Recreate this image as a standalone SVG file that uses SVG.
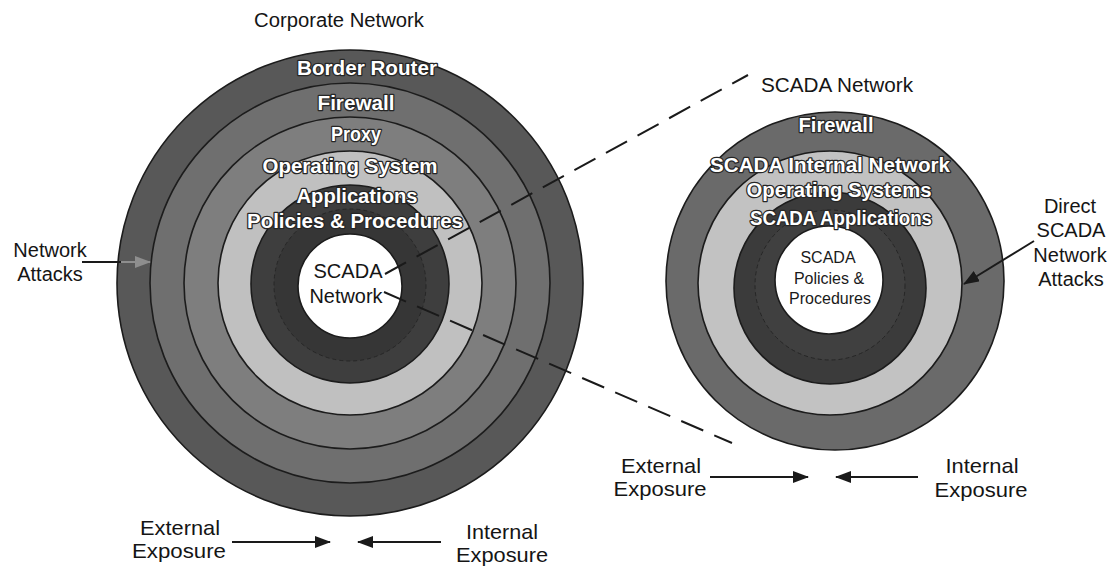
<svg xmlns="http://www.w3.org/2000/svg" width="1119" height="570" viewBox="0 0 1119 570">
<defs>
<style>
.lbl{font-family:"Liberation Sans",Arial,sans-serif;font-size:20px;fill:#151515;text-anchor:middle}
.exp{font-family:"Liberation Sans",Arial,sans-serif;font-size:21px;fill:#151515;text-anchor:middle}
.rt{font-family:"Liberation Sans",Arial,sans-serif;font-weight:bold;font-size:20px;fill:#fff;stroke:#262626;stroke-width:2.5;paint-order:stroke;stroke-linejoin:round;text-anchor:middle}
.edge{stroke:#1c1c1c;stroke-width:1.6}
.faint{fill:none;stroke:#262626;stroke-width:1;stroke-dasharray:4 3}
.dash{fill:none;stroke:#1a1a1a;stroke-width:2;stroke-dasharray:24 12}
.arr{fill:none;stroke:#1a1a1a;stroke-width:2}
</style>
<marker id="ah" viewBox="0 0 16 12" refX="15" refY="6" markerWidth="16" markerHeight="12" markerUnits="userSpaceOnUse" orient="auto">
<path d="M0,0 L16,6 L0,12 Z" fill="#1a1a1a"/>
</marker>
<marker id="ahg" viewBox="0 0 16 12" refX="15" refY="6" markerWidth="18" markerHeight="12" markerUnits="userSpaceOnUse" orient="auto">
<path d="M0,0 L16,6 L0,12 Z" fill="#8e8e8e"/>
</marker>
</defs>
<rect width="1119" height="570" fill="#fff"/>

<g id="corporate-network">
<circle class="edge" cx="350" cy="283" r="233" fill="#585858"/>
<circle class="edge" cx="350" cy="283" r="200" fill="#6f6f6f"/>
<circle class="edge" cx="350" cy="283" r="166" fill="#7e7e7e"/>
<circle class="edge" cx="350" cy="283" r="132" fill="#c0c0c0"/>
<circle class="edge" cx="350" cy="284" r="99" fill="#3e3e3e"/>
<circle class="faint" cx="350" cy="285" r="76" style="fill:#363636"/>
<circle class="edge" cx="350" cy="286" r="52" fill="#ffffff"/>
<text class="lbl" x="339" y="27" textLength="170" lengthAdjust="spacingAndGlyphs">Corporate Network</text>
<text class="rt" x="367" y="75" textLength="140" lengthAdjust="spacingAndGlyphs">Border Router</text>
<text class="rt" x="356" y="110" textLength="77" lengthAdjust="spacingAndGlyphs">Firewall</text>
<text class="rt" x="356" y="141" textLength="50" lengthAdjust="spacingAndGlyphs">Proxy</text>
<text class="rt" x="350" y="173" textLength="175" lengthAdjust="spacingAndGlyphs">Operating System</text>
<text class="rt" x="357" y="203" textLength="121" lengthAdjust="spacingAndGlyphs">Applications</text>
<text class="rt" x="355" y="228" textLength="216" lengthAdjust="spacingAndGlyphs">Policies &amp; Procedures</text>
<text class="lbl" x="348" y="278" textLength="69" lengthAdjust="spacingAndGlyphs">SCADA</text>
<text class="lbl" x="346" y="303" textLength="73" lengthAdjust="spacingAndGlyphs">Network</text>
</g>

<g id="scada-network">
<circle class="edge" cx="835" cy="281" r="169" fill="#6a6a6a"/>
<circle class="edge" cx="830" cy="283" r="132" fill="#c2c2c2"/>
<circle class="edge" cx="830" cy="288" r="96" fill="#3b3b3b"/>
<circle class="faint" cx="830" cy="285" r="75" style="fill:#404040"/>
<circle class="edge" cx="829" cy="280" r="54" fill="#ffffff"/>
<text class="lbl" x="837" y="92" textLength="152" lengthAdjust="spacingAndGlyphs">SCADA Network</text>
<text class="rt" x="836" y="132" textLength="75" lengthAdjust="spacingAndGlyphs">Firewall</text>
<text class="rt" x="830" y="172" textLength="240" lengthAdjust="spacingAndGlyphs">SCADA Internal Network</text>
<text class="rt" x="839" y="197" textLength="185" lengthAdjust="spacingAndGlyphs">Operating Systems</text>
<text class="rt" x="841" y="225" textLength="182" lengthAdjust="spacingAndGlyphs">SCADA Applications</text>
<g style="font-family:'Liberation Sans',Arial,sans-serif;font-size:16px;fill:#1a1a1a;text-anchor:middle">
<text x="828" y="263">SCADA</text>
<text x="829" y="284">Policies &amp;</text>
<text x="830" y="304">Procedures</text>
</g>
</g>

<g id="network-attacks">
<text class="lbl" x="50" y="257">Network</text>
<text class="lbl" x="50" y="281">Attacks</text>
</g>

<g id="direct-attacks">
<text class="lbl" x="1070" y="213">Direct</text>
<text class="lbl" x="1071" y="237">SCADA</text>
<text class="lbl" x="1070" y="262">Network</text>
<text class="lbl" x="1071" y="286">Attacks</text>
</g>

<g id="exposure-left">
<text class="exp" x="180" y="535" textLength="80" lengthAdjust="spacingAndGlyphs">External</text>
<text class="exp" x="179" y="558" textLength="94" lengthAdjust="spacingAndGlyphs">Exposure</text>
<text class="exp" x="502" y="539" textLength="72" lengthAdjust="spacingAndGlyphs">Internal</text>
<text class="exp" x="502" y="562" textLength="92" lengthAdjust="spacingAndGlyphs">Exposure</text>
</g>

<g id="exposure-right">
<text class="exp" x="661" y="473" textLength="80" lengthAdjust="spacingAndGlyphs">External</text>
<text class="exp" x="660" y="496" textLength="93" lengthAdjust="spacingAndGlyphs">Exposure</text>
<text class="exp" x="982" y="473" textLength="73" lengthAdjust="spacingAndGlyphs">Internal</text>
<text class="exp" x="981" y="497" textLength="93" lengthAdjust="spacingAndGlyphs">Exposure</text>
</g>

<g id="connectors">
<path class="dash" d="M385,274 L748,75"/>
<path class="dash" d="M384,292 L732,443"/>
<path class="arr" d="M82,262 L121,262"/>
<path d="M121,262 L150,262" fill="none" stroke="#8e8e8e" stroke-width="2" marker-end="url(#ahg)"/>
<path class="arr" d="M1034,241 L964,284" marker-end="url(#ah)"/>
<path class="arr" d="M232,542 L330,542" marker-end="url(#ah)"/>
<path class="arr" d="M441,542 L358,542" marker-end="url(#ah)"/>
<path class="arr" d="M710,477 L808,477" marker-end="url(#ah)"/>
<path class="arr" d="M918,477 L836,477" marker-end="url(#ah)"/>
</g>
</svg>
